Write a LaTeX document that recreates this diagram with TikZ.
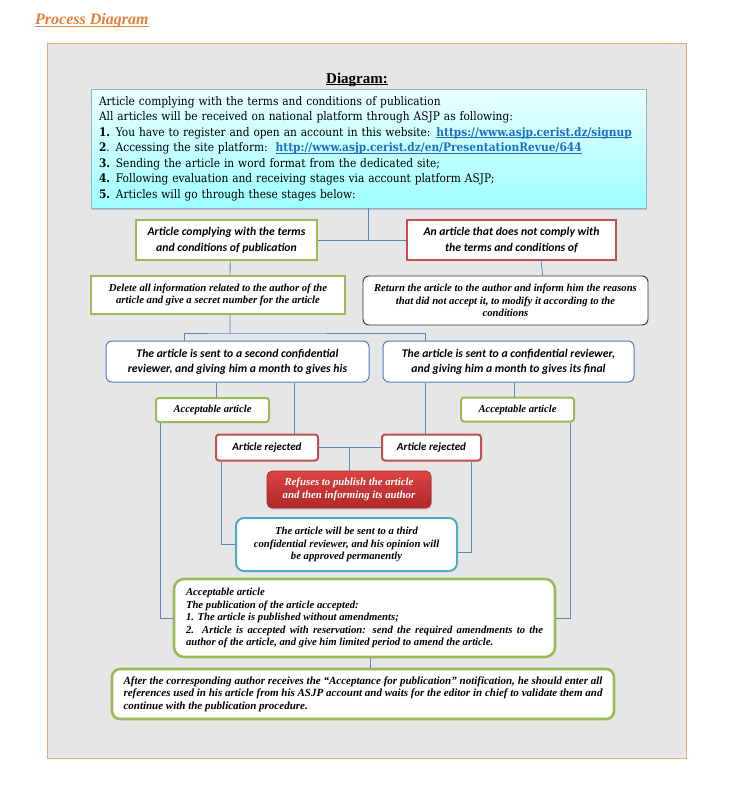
\documentclass[tikz,border=0pt]{standalone}
\usepackage{fontspec}
\setmainfont{Liberation Serif}
\newfontfamily\calfont{Carlito}
\newfontfamily\topfont{DejaVu Serif Condensed}
\usetikzlibrary{calc,shadows}
\definecolor{bggray}{HTML}{E6E6E6}
\definecolor{frameor}{HTML}{F0A874}
\definecolor{titleor}{HTML}{E3803A}
\definecolor{connc}{HTML}{5B87C0}
\definecolor{grn}{HTML}{9BBB59}
\definecolor{rd}{HTML}{C0504D}
\definecolor{cy}{HTML}{4BACC6}
\definecolor{rvb}{HTML}{4F81BD}
\definecolor{linkb}{HTML}{1F6FC0}
\definecolor{topbd}{HTML}{8FB4C8}
\definecolor{reftop}{HTML}{DB4543}
\definecolor{refbot}{HTML}{B0282A}
\hyphenpenalty=10000
\exhyphenpenalty=10000
\newcommand{\myul}[2][1.6pt]{\setbox0\hbox{#2}\rlap{\rule[-#1]{\wd0}{0.7pt}}\box0}
\newcommand{\lnk}[1]{\textcolor{linkb}{\myul{\textbf{#1}}}}
\tikzset{
  sz/.style 2 args={minimum width=#1pt, minimum height=#2pt, inner sep=0pt},
  conn/.style={draw=connc, line width=0.8pt},
  topbox/.style={draw=topbd, line width=0.8pt, top color=cyan!8!white, bottom color=cyan!38!white,
     drop shadow={shadow xshift=1pt, shadow yshift=-1.5pt, opacity=0.35}, align=left,
     font=\topfont\fontsize{11.8}{15.5}\selectfont},
  grnsq/.style={draw=grn, line width=2.6pt, fill=white, align=center},
  redsq/.style={draw=rd, line width=2.6pt, fill=white, align=center},
  calbi/.style={font=\calfont\bfseries\itshape\fontsize{11.7}{16}\selectfont},
  tbi/.style={font=\bfseries\itshape\fontsize{10.7}{12.5}\selectfont},
  rndbox/.style={draw=#1, fill=white, rounded corners=6pt, align=center},
  accbox/.style={draw=grn, line width=2pt, fill=white, rounded corners=3pt, align=center},
  rejbox/.style={draw=rd, line width=2pt, fill=white, rounded corners=3pt, align=center},
}
\begin{document}
\begin{tikzpicture}[x=1pt,y=-1pt]
\useasboundingbox (0,0) rectangle (732,800);
\fill[white] (0,0) rectangle (732,800);
\draw[frameor, line width=0.9pt, fill=bggray] (47,43) rectangle (686,758);

\node[anchor=base west, text=titleor, font=\bfseries\itshape\fontsize{16}{18}\selectfont, inner sep=0pt] (title) at (35,25) {\myul{Process Diagram}};
\node[anchor=base, font=\bfseries\fontsize{15}{17}\selectfont, inner sep=0pt] (dtitle) at (357,83) {\myul{Diagram:}};

\node[topbox, sz={555}{119}, text width=539pt] (top) at (368.5,148.5) {Article complying with the terms and conditions of publication\\
All articles will be received on national platform through ASJP as following:\\
\textbf{1.} You have to register and open an account in this website: \lnk{https://www.asjp.cerist.dz/signup}\\
\textbf{2}. Accessing the site platform:\ \ \lnk{http://www.asjp.cerist.dz/en/PresentationRevue/644}\\
\textbf{3.} Sending the article in word format from the dedicated site;\\
\textbf{4.} Following evaluation and receiving stages via account platform ASJP;\\
\textbf{5.} Articles will go through these stages below:};

\node[grnsq, calbi, sz={181}{40}] (c1) at (226.5,240) {Article complying with the terms\\and conditions of publication};
\node[redsq, calbi, sz={209}{40}] (nc) at (511.5,240) {An article that does not comply with\\the terms and conditions of};
\node[grnsq, tbi, sz={254}{38}] (del) at (218,295) {Delete all information related to the author of the\\article and give a secret number for the article};
\node[rndbox=black!80, line width=0.9pt, tbi, sz={285}{49}] (ret) at (505.5,300.5) {Return the article to the author and inform him the reasons\\that did not accept it, to modify it according to the\\conditions};
\node[rndbox=rvb, line width=1pt, calbi, font=\calfont\bfseries\itshape\fontsize{11.7}{15}\selectfont, sz={263}{41}] (rv1) at (237.5,361.5) {The article is sent to a second confidential\\reviewer, and giving him a month to gives his};
\node[rndbox=rvb, line width=1pt, calbi, font=\calfont\bfseries\itshape\fontsize{11.7}{15}\selectfont, sz={251}{41}] (rv2) at (508.5,361.5) {The article is sent to a confidential reviewer,\\and giving him a month to gives its final};
\node[accbox, tbi, font=\bfseries\itshape\fontsize{10.6}{12.5}\selectfont, sz={113}{24}] (acc1) at (212.5,410) {Acceptable article};
\node[accbox, tbi, font=\bfseries\itshape\fontsize{10.6}{12.5}\selectfont, sz={113}{24}] (acc2) at (517.5,409.5) {Acceptable article};
\node[rejbox, calbi, font=\calfont\bfseries\itshape\fontsize{11}{13}\selectfont, sz={102}{26}] (rej1) at (267,447.5) {Article rejected};
\node[rejbox, calbi, font=\calfont\bfseries\itshape\fontsize{11}{13}\selectfont, sz={99}{26}] (rej2) at (431.5,447.5) {Article rejected};
\node[draw=refbot, line width=0.6pt, rounded corners=5pt, top color=reftop, bottom color=refbot, text=white,
  drop shadow={shadow xshift=0.8pt, shadow yshift=-1.5pt, opacity=0.3}, align=center, font=\bfseries\itshape\fontsize{10.8}{12.5}\selectfont, sz={164}{37}] (ref) at (349,489.5) {Refuses to publish the article\\and then informing its author};
\node[rndbox=cy, line width=2pt, rounded corners=8pt, font=\bfseries\itshape\fontsize{10.7}{12.3}\selectfont, sz={221}{53}] (third) at (346.5,544.5) {The article will be sent to a third\\confidential reviewer, and his opinion will\\be approved permanently};
\node[draw=grn, line width=2.6pt, fill=white, rounded corners=10pt, tbi, align=justify, text width=357pt, sz={381}{78}] (big) at (364.5,618) {Acceptable article\\The publication of the article accepted:\\1. The article is published without amendments;\\2. Article is accepted with reservation: send the required amendments to the author of the article, and give him limited period to amend the article.};
\node[draw=grn, line width=2.6pt, fill=white, rounded corners=8pt, font=\bfseries\itshape\fontsize{11}{12.5}\selectfont, align=justify, text width=479pt, sz={502}{50}] (fin) at (363,694) {After the corresponding author receives the “Acceptance for publication” notification, he should enter all references used in his article from his ASJP account and waits for the editor in chief to validate them and continue with the publication procedure.};

% connectors
\draw[conn] (top.south) -- (top.south |- c1.east);
\draw[conn] (c1.east) -- (nc.west);
\draw[conn] ($(c1.south west)!0.52!(c1.south east)$) -- ($(del.north west)!0.547!(del.north east)$);
\draw[conn] ($(nc.south west)!0.64!(nc.south east)$) -- ($(ret.north west)!0.63!(ret.north east)$);
\coordinate (j1) at (230,333);
\draw[conn] ($(del.south west)!0.547!(del.south east)$) -- (j1);
\draw[conn] ($(rv1.north west)!0.3!(rv1.north east)$) |- (j1) -| ($(rv2.north west)!0.17!(rv2.north east)$);
\coordinate (a1) at ($(acc1.north west)!0.53!(acc1.north east)$);
\draw[conn] (a1) -- (a1 |- rv1.south);
\coordinate (r1) at ($(rej1.north west)!0.765!(rej1.north east)$);
\draw[conn] (r1) -- (r1 |- rv1.south);
\coordinate (r2) at ($(rej2.north west)!0.44!(rej2.north east)$);
\draw[conn] (r2) -- (r2 |- rv2.south);
\coordinate (a2) at ($(acc2.north west)!0.47!(acc2.north east)$);
\draw[conn] (a2) -- (a2 |- rv2.south);
\draw[conn] (rej1.east) -- (rej2.west);
\draw[conn] (ref.north |- rej1.east) -- (ref.north);
\draw[conn] ($(rej1.south west)!0.066!(rej1.south east)$) |- (third.west);
\draw[conn] ($(rej2.south west)!0.896!(rej2.south east)$) |- ($(third.north east)!0.65!(third.south east)$);
\draw[conn] ($(acc1.south west)!0.05!(acc1.south east)$) |- (big.west);
\draw[conn] ($(acc2.south west)!0.96!(acc2.south east)$) |- (big.east);
\coordinate (bs) at ($(big.south west)!0.515!(big.south east)$);
\draw[conn] (bs) -- (bs |- fin.north);
\end{tikzpicture}
\end{document}
